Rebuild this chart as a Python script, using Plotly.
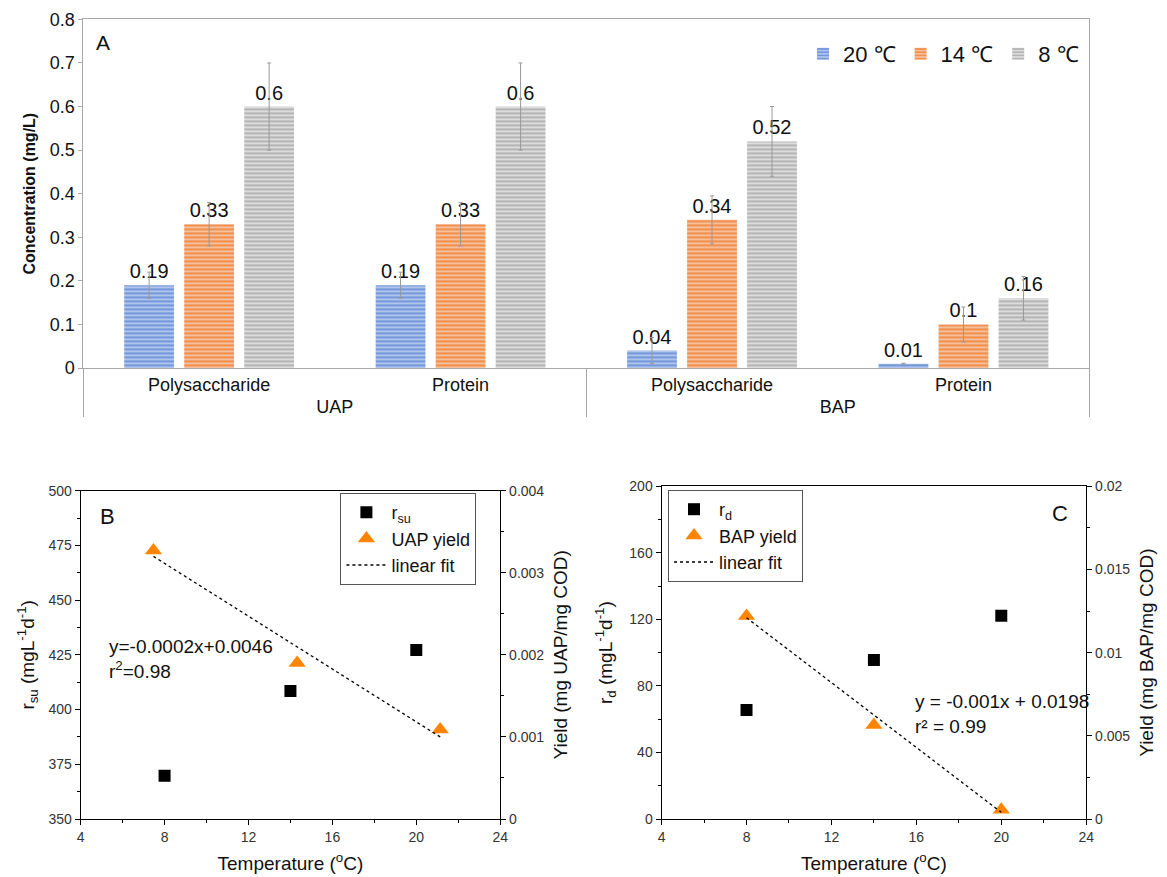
import plotly.graph_objects as go

FONT = "Arial, 'Liberation Sans', sans-serif"

# ---------------- Panel A data ----------------
groups = ["UAP", "UAP", "BAP", "BAP"]
subcats = ["Polysaccharide", "Protein", "Polysaccharide", "Protein"]
temp_labels = ["20 ℃", "14 ℃", "8 ℃"]
conc_20 = [0.19, 0.19, 0.04, 0.01]
err_20 = [0.03, 0.03, 0.03, 0.001]
conc_14 = [0.33, 0.33, 0.34, 0.10]
err_14 = [0.05, 0.05, 0.055, 0.04]
conc_8 = [0.60, 0.60, 0.52, 0.16]
err_8 = [0.10, 0.10, 0.08, 0.05]

# ---------------- Panel B data ----------------
temp_rsu = [8, 14, 20]
rsu = [369.8, 408.5, 427.2]
temp_uap = [7.47, 14.32, 21.14]
uap_yield = [0.00327, 0.00190, 0.00109]
fit_b_x = [7.47, 21.14]
fit_b_y = [0.00320, 0.00100]

# ---------------- Panel C data ----------------
temp_rd = [8, 14, 20]
rd = [65.5, 95.6, 122.2]
temp_bap = [8, 14, 20]
bap_yield = [0.0122, 0.00565, 0.00056]
fit_c_x = [8, 20]
fit_c_y = [0.0121, 0.0004]

W, H = 1167, 877
def px(x): return x / W
def py(y): return 1 - y / H

fig = go.Figure()

bar_styles = [
    (conc_20, err_20, "#6E93DA", "#AFC3EC"),
    (conc_14, err_14, "#F08A45", "#F7BE98"),
    (conc_8, err_8, "#B0B0B0", "#DCDCDC"),
]
for name, (vals, errs, fg, bg) in zip(temp_labels, bar_styles):
    fig.add_trace(go.Bar(
        x=[groups, subcats], y=vals, name=name,
        marker=dict(color=bg, line=dict(width=0),
                    pattern=dict(shape="-", fgcolor=fg, bgcolor=bg, size=4, solidity=0.45)),
        error_y=dict(type="data", array=errs, color="#9A9A9A", thickness=1, width=2),
        texttemplate="%{y}", textposition="outside",
        textfont=dict(size=20, color="#111", family=FONT),
        cliponaxis=False, xaxis="x", yaxis="y", legend="legend",
    ))

# Panel B
fig.add_trace(go.Scatter(x=temp_rsu, y=rsu, mode="markers", name="r<sub>su</sub>",
                         marker=dict(symbol="square", size=12, color="black"),
                         xaxis="x2", yaxis="y2", legend="legend2"))
fig.add_trace(go.Scatter(x=temp_uap, y=uap_yield, mode="markers", name="UAP yield",
                         marker=dict(symbol="triangle-up", size=15, color="#FF8400"),
                         xaxis="x2", yaxis="y3", legend="legend2"))
fig.add_trace(go.Scatter(x=fit_b_x, y=fit_b_y, mode="lines", name="linear fit",
                         line=dict(color="black", width=1.3, dash="dot"),
                         xaxis="x2", yaxis="y3", legend="legend2"))

# Panel C
fig.add_trace(go.Scatter(x=temp_rd, y=rd, mode="markers", name="r<sub>d</sub>",
                         marker=dict(symbol="square", size=12, color="black"),
                         xaxis="x3", yaxis="y4", legend="legend3"))
fig.add_trace(go.Scatter(x=temp_bap, y=bap_yield, mode="markers", name="BAP yield",
                         marker=dict(symbol="triangle-up", size=15, color="#FF8400"),
                         xaxis="x3", yaxis="y5", legend="legend3"))
fig.add_trace(go.Scatter(x=fit_c_x, y=fit_c_y, mode="lines", name="linear fit",
                         line=dict(color="black", width=1.3, dash="dot"),
                         xaxis="x3", yaxis="y5", legend="legend3"))

tickfont_s = dict(size=14, color="#333", family=FONT)
title_s = dict(size=19, color="#111", family=FONT)

def sc_x(domain, anchor):
    return dict(domain=domain, anchor=anchor, range=[4, 24], dtick=4, tick0=4,
                ticks="outside", ticklen=5, tickwidth=1, tickcolor="black",
                minor=dict(ticks="outside", ticklen=3, dtick=2, tickcolor="black"),
                showline=True, linecolor="black", linewidth=1.2, mirror=True,
                showgrid=False, zeroline=False, tickfont=tickfont_s,
                title=dict(text="Temperature (<sup>o</sup>C)", font=title_s, standoff=12),
                automargin=False)

def sc_y(domain, anchor, rng, dt, mdt, title, side="left", overlaying=None, standoff=10):
    d = dict(domain=domain, anchor=anchor, range=rng, dtick=dt, tick0=0, side=side,
             ticks="outside", ticklen=5, tickwidth=1, tickcolor="black",
             minor=dict(ticks="outside", ticklen=3, dtick=mdt, tickcolor="black"),
             showline=True, linecolor="black", linewidth=1.2,
             showgrid=False, zeroline=False, tickfont=tickfont_s,
             title=dict(text=title, font=title_s, standoff=standoff),
             automargin=False)
    if overlaying:
        d["overlaying"] = overlaying
        d.pop("domain")
    return d

yA = [py(368), py(19.4)]
yB = [py(819), py(490.7)]
yC = [py(819), py(486.3)]

def ann(text, x, y, size, xanchor="center"):
    return dict(text=text, x=px(x), y=py(y), xref="paper", yref="paper",
                xanchor=xanchor, yanchor="middle", align="left", showarrow=False,
                font=dict(size=size, color="#111", family=FONT))

fig.update_layout(
    template="none",
    width=W, height=H,
    margin=dict(l=0, r=0, t=0, b=0),
    paper_bgcolor="white", plot_bgcolor="rgba(0,0,0,0)",
    font=dict(family=FONT, color="#111"),
    barmode="group", bargap=0.284, bargroupgap=0.17,
    xaxis=dict(domain=[px(83.4), px(1089.2)], anchor="y", type="multicategory",
               showline=True, linecolor="#A8A8A8", linewidth=1, mirror=True,
               showdividers=True, dividercolor="#A8A8A8", dividerwidth=1,
               ticks="", showgrid=False,
               tickfont=dict(size=18, color="#111", family=FONT),
               automargin=False),
    yaxis=dict(domain=yA, anchor="x", range=[0, 0.8], dtick=0.1,
               ticks="outside", ticklen=4, tickcolor="#A8A8A8",
               showline=True, linecolor="#A8A8A8", linewidth=1, mirror=True,
               showgrid=False, zeroline=False,
               tickfont=dict(size=18, color="#111", family=FONT),
               title=dict(text="<b>Concentration (mg/L)</b>",
                          font=dict(size=16, color="#111", family=FONT), standoff=10),
               automargin=False),
    xaxis2=sc_x([px(80.65), px(500.2)], "y2"),
    yaxis2=sc_y(yB, "x2", [350, 500], 25, 12.5, "r<sub>su</sub> (mgL<sup>-1</sup>d<sup>-1</sup>)",
                standoff=8),
    yaxis3=sc_y(None, "x2", [0, 0.004], 0.001, 0.0005, "Yield (mg UAP/mg COD)",
                side="right", overlaying="y2"),
    xaxis3=sc_x([px(661.6), px(1086.2)], "y4"),
    yaxis4=sc_y(yC, "x3", [0, 200], 40, 20, "r<sub>d</sub> (mgL<sup>-1</sup>d<sup>-1</sup>)",
                standoff=11),
    yaxis5=sc_y(None, "x3", [0, 0.02], 0.005, 0.0025, "Yield (mg BAP/mg COD)",
                side="right", overlaying="y4"),
    legend=dict(orientation="h", x=px(803), y=py(33), xanchor="left", yanchor="top",
                font=dict(size=22, color="#111", family=FONT), bgcolor="rgba(0,0,0,0)",
                itemwidth=30, traceorder="normal"),
    legend2=dict(x=px(340.4), y=py(493), xanchor="left", yanchor="top",
                 font=dict(size=18, color="#111", family=FONT), bgcolor="white",
                 bordercolor="#555", borderwidth=1, tracegroupgap=0, itemwidth=40),
    legend3=dict(x=px(668), y=py(490), xanchor="left", yanchor="top",
                 font=dict(size=18, color="#111", family=FONT), bgcolor="white",
                 bordercolor="#555", borderwidth=1, tracegroupgap=0, itemwidth=40),
    showlegend=True,
    annotations=[
        ann("A", 103, 43, 21),
        ann("B", 107.7, 516.7, 22),
        ann("C", 1060.3, 513.3, 22),
        ann("y=-0.0002x+0.0046<br>r<sup>2</sup>=0.98", 107.3, 659.2, 19, xanchor="left"),
        ann("y = -0.001x + 0.0198<br>r² = 0.99", 913.2, 713.9, 19, xanchor="left"),
    ],
)

fig.write_html("out.html")
